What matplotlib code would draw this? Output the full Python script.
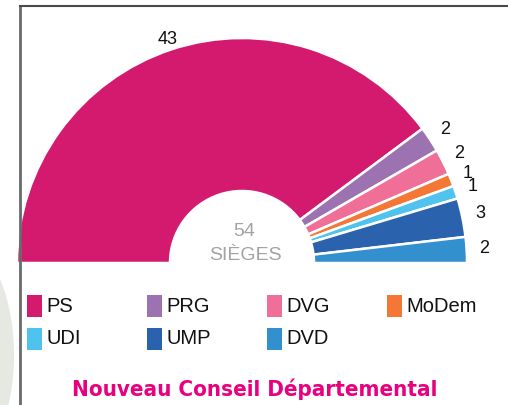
import numpy as np
import matplotlib.pyplot as plt
from matplotlib.patches import Rectangle, Ellipse

# seats per party
parties = ['PS', 'PRG', 'DVG', 'MoDem', 'UDI', 'UMP', 'DVD']
seats = [43, 2, 2, 1, 1, 3, 2]
colors = ['#d41a6e', '#9c72b0', '#f06f99', '#f47735', '#4fc3ee', '#2a62ae', '#3390cf']
total = sum(seats)

W, H = 508, 405
fig = plt.figure(figsize=(W / 100, H / 100), dpi=100)
ax = fig.add_axes([0, 0, 1, 1])

cx, cy = 242, H - 263
r_out, r_in = 225, 72

# half donut: invisible wedge fills the lower half
vals = seats + [total]
cols = colors + ['none']
wedges, _ = ax.pie(vals, colors=cols, center=(cx, cy), radius=r_out,
                   startangle=180, counterclock=False,
                   wedgeprops=dict(width=r_out - r_in, edgecolor='white', linewidth=1.8))
wedges[-1].set_edgecolor('none')

# value labels at the middle of each segment
cum = np.cumsum([0] + seats)
for i, v in enumerate(seats):
    mid = (cum[i] + cum[i + 1]) / 2
    ang = np.radians(180 - 180 * mid / total)
    rr = 235 if i == 0 else 243
    ax.text(cx + rr * np.cos(ang), cy + rr * np.sin(ang), str(v),
            ha='center', va='center', fontsize=13, color='#111111',
            family='Liberation Sans')

ax.text(cx + 2, H - 231, str(total), ha='center', va='center', fontsize=14,
        color='#a3a3a3', family='Liberation Sans')
ax.text(cx + 3, H - 256, 'SIÈGES', ha='center', va='center', fontsize=14,
        color='#a3a3a3', family='Liberation Sans')

# legend, 4 per row
for i, (p, c) in enumerate(zip(parties, colors)):
    row, col = divmod(i, 4)
    x0 = 27 + col * 120
    y0 = H - 306 - row * 33
    ax.add_patch(Rectangle((x0, y0 - 11), 15, 22, color=c, lw=0))
    ax.text(x0 + 19, y0, p, ha='left', va='center', fontsize=14.5,
            color='#111111', family='Liberation Sans')

ax.text(255, H - 389, 'Nouveau Conseil Départemental', ha='center', va='center',
        fontsize=16, fontweight='bold', fontstretch='condensed', color='#e8007f',
        family='DejaVu Sans')

# frame and decoration
ax.add_patch(Ellipse((-42, H - 355), 112, 230, color='#e5e9e1', lw=0, zorder=0))
ax.plot([20, 20], [0, H - 6], color='#6a6a6a', lw=2)
ax.plot([20, W], [H - 6, H - 6], color='#4a4a4a', lw=1.5)

ax.set_xlim(0, W)
ax.set_ylim(0, H)
ax.set_aspect('auto')
ax.axis('off')

fig.savefig('out.png', dpi=100)
